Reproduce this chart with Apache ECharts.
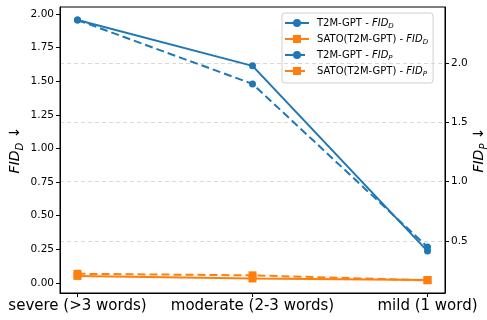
<!DOCTYPE html>
<html>
<head>
<meta charset="utf-8">
<script src="https://cdn.jsdelivr.net/npm/echarts@6/dist/echarts.min.js"></script>
<style>
  html, body { margin: 0; padding: 0; background: #fff; }
  #chart { width: 487px; height: 320px; }
</style>
</head>
<body>
<div id="chart"></div>
<script>
  let categories = ['severe (>3 words)', 'moderate (2-3 words)', 'mild (1 word)'];
  let t2mFidD = [1.956, 1.615, 0.237];
  let satoFidD = [0.052, 0.033, 0.022];
  let t2mFidP = [2.363, 1.824, 0.449];
  let satoFidP = [0.222, 0.209, 0.167];
  let leftTicks = [0, 0.25, 0.5, 0.75, 1.0, 1.25, 1.5, 1.75, 2.0];
  let rightTicks = [0.5, 1.0, 1.5, 2.0];

  let blue = '#1f77b4';
  let orange = '#ff7f0e';
  let font = 'DejaVu Sans';

  let myChart = echarts.init(document.getElementById('chart'));

  function toPoints(values) {
    return values.map((v, i) => [i, v]);
  }

  function makeSeries(name, values, color, symbol, axisIndex, dashed) {
    return {
      name: name,
      type: 'line',
      yAxisIndex: axisIndex,
      data: toPoints(values),
      symbol: symbol,
      symbolSize: symbol === 'circle' ? 7 : 8,
      showSymbol: true,
      animation: false,
      itemStyle: { color: color },
      lineStyle: { color: color, width: 2, type: dashed ? [8, 4] : 'solid' }
    };
  }

  let richName = {
    i: { fontStyle: 'italic', fontSize: 14, fontFamily: font, color: '#000' },
    s: { fontStyle: 'italic', fontSize: 10, fontFamily: font, color: '#000', verticalAlign: 'bottom', lineHeight: 20 },
    a: { fontSize: 14, fontFamily: font, color: '#000' }
  };

  let option = {
    backgroundColor: '#fff',
    animation: false,
    grid: {
      left: 60, right: 42, top: 7, bottom: 27,
      outerBoundsMode: 'none',
      containLabel: false,
      show: true, borderColor: '#000', borderWidth: 1
    },
    legend: {
      orient: 'vertical',
      left: 282, top: 13,
      padding: [5, 5, 5, 2],
      itemGap: 4,
      itemWidth: 24, itemHeight: 10,
      borderColor: '#d0d0d0', borderWidth: 1, borderRadius: 3,
      textStyle: {
        fontSize: 10, fontFamily: font, color: '#000', padding: [0, 0, 0, 3],
        rich: {
          n: { fontSize: 10, fontFamily: font, color: '#000' },
          i: { fontSize: 10, fontFamily: font, fontStyle: 'italic', color: '#000' },
          s: { fontSize: 7, fontFamily: font, fontStyle: 'italic', color: '#000', verticalAlign: 'bottom', lineHeight: 14 }
        }
      },
      formatter: function (name) {
        let parts = name.split(' - ');
        let sub = parts[1].slice(-1);
        return '{n|' + parts[0] + ' - }{i|FID}{s|' + sub + '}';
      },
      data: ['T2M-GPT - FID_D', 'SATO(T2M-GPT) - FID_D', 'T2M-GPT - FID_P', 'SATO(T2M-GPT) - FID_P']
    },
    xAxis: {
      type: 'value',
      min: -0.1, max: 2.1,
      splitLine: { show: false },
      axisLine: { onZero: false, lineStyle: { color: '#000' } },
      axisTick: { show: true, length: 4, customValues: [0, 1, 2], lineStyle: { color: '#000' } },
      axisLabel: {
        customValues: [0, 1, 2],
        formatter: function (v) { return categories[Math.round(v)]; },
        fontSize: 15, fontFamily: font, color: '#000', margin: 6
      }
    },
    yAxis: [{
      type: 'value',
      position: 'left',
      min: -0.075, max: 2.053,
      name: '{i|FID}{s|D}{a| ↓}',
      nameLocation: 'middle',
      nameGap: 45,
      nameRotate: 90,
      nameMoveOverlap: false,
      nameTextStyle: { rich: richName, align: 'center', verticalAlign: 'middle' },
      splitLine: { show: false },
      axisLine: { show: true, onZero: false, lineStyle: { color: '#000' } },
      axisTick: { show: true, length: 4, customValues: leftTicks, lineStyle: { color: '#000' } },
      axisLabel: {
        customValues: leftTicks,
        formatter: function (v) { return v.toFixed(2); },
        fontSize: 10.5, fontFamily: font, color: '#000', margin: 6
      }
    }, {
      type: 'value',
      position: 'right',
      min: 0.06, max: 2.473,
      name: '{i|FID}{s|P}{a| ↓}',
      nameLocation: 'middle',
      nameGap: 34,
      nameRotate: 90,
      nameMoveOverlap: false,
      nameTextStyle: { rich: richName, align: 'center', verticalAlign: 'middle' },
      splitLine: { show: true, lineStyle: { color: '#d9d9d9', type: [4, 3], width: 1 } },
      axisLine: { show: true, onZero: false, lineStyle: { color: '#000' } },
      axisTick: { show: true, length: 4, customValues: rightTicks, lineStyle: { color: '#000' } },
      axisLabel: {
        customValues: rightTicks,
        formatter: function (v) { return v.toFixed(1); },
        fontSize: 10.5, fontFamily: font, color: '#000', margin: 6
      }
    }],
    series: [
      makeSeries('T2M-GPT - FID_D', t2mFidD, blue, 'circle', 0, false),
      makeSeries('SATO(T2M-GPT) - FID_D', satoFidD, orange, 'rect', 0, false),
      makeSeries('T2M-GPT - FID_P', t2mFidP, blue, 'circle', 1, true),
      makeSeries('SATO(T2M-GPT) - FID_P', satoFidP, orange, 'rect', 1, true)
    ]
  };
  myChart.setOption(option);
</script>
</body>
</html>
